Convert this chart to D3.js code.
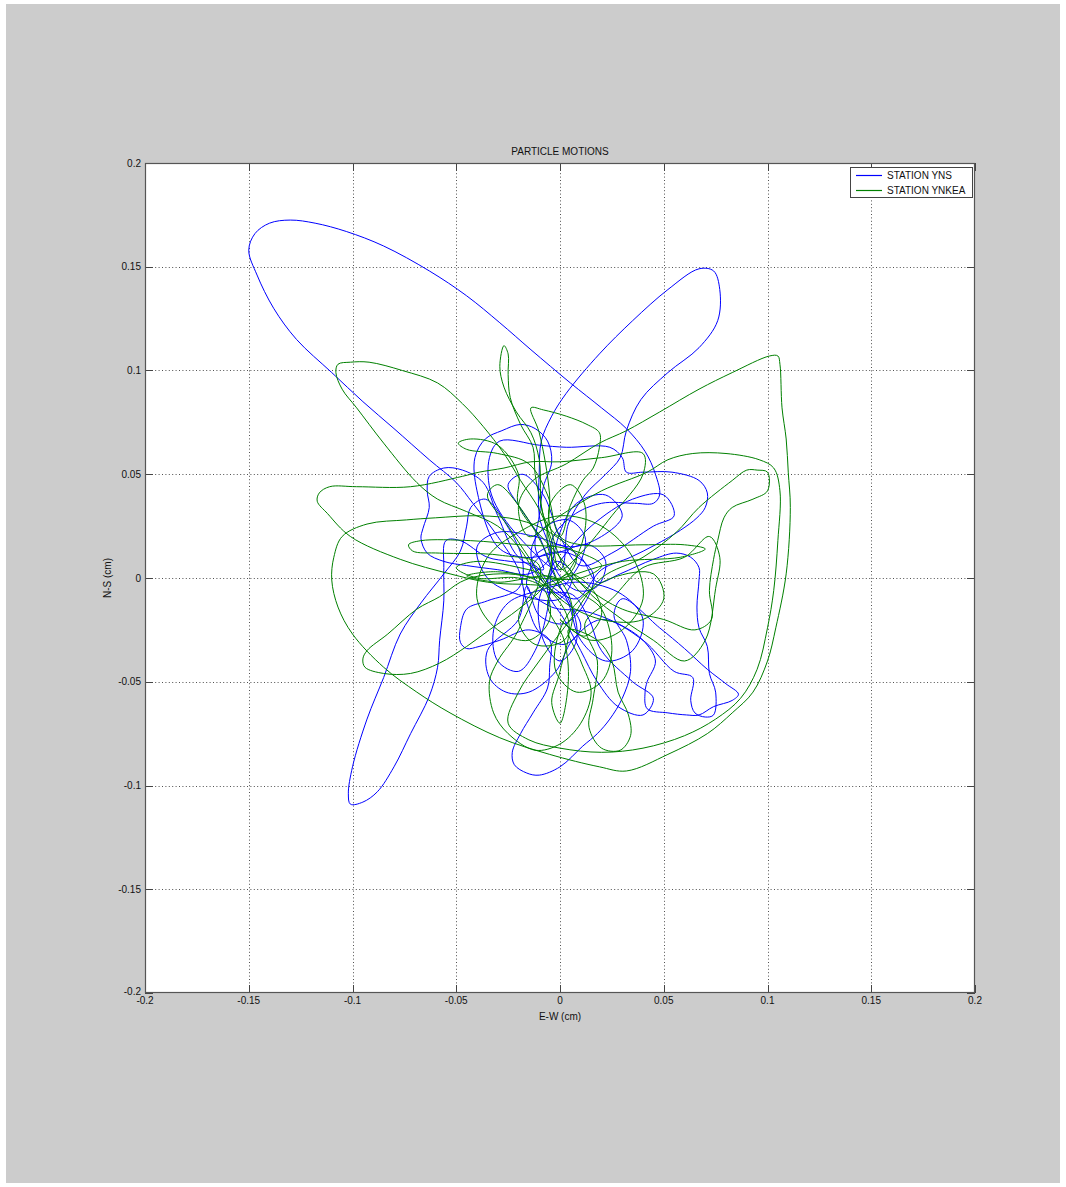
<!DOCTYPE html>
<html><head><meta charset="utf-8">
<script src="https://cdn.jsdelivr.net/npm/d3@7"></script>
<style>
html,body{margin:0;padding:0;background:#fff;}
svg text{font-family:"Liberation Sans",Arial,Helvetica,sans-serif;}
</style></head>
<body><svg id="c" width="1066" height="1187"></svg>
<script>
const title = "PARTICLE MOTIONS";
const xLabel = "E-W (cm)";
const yLabel = "N-S (cm)";
const xTicks = [-0.2,-0.15,-0.1,-0.05,0,0.05,0.1,0.15,0.2];
const yTicks = [-0.2,-0.15,-0.1,-0.05,0,0.05,0.1,0.15,0.2];
const seriesNames = ["STATION YNS","STATION YNKEA"];
const seriesColors = ["#0000ff","#008000"];

// STATION YNS (E-W, N-S) in cm
const ynsPoints = [
[0.002,-0.004],[0.010,0.008],[0.012,0.020],[0.004,0.028],[-0.008,0.024],[-0.014,0.012],[-0.008,-0.002],[0.004,-0.012],[0.010,-0.024],[0.002,-0.032],[-0.010,-0.026],[-0.016,-0.012],[-0.020,0.004],
[-0.030,0.020],[-0.042,0.036],[-0.050,0.046],[-0.063,0.057],[-0.080,0.072],[-0.095,0.085],[-0.110,0.099],[-0.127,0.115],[-0.138,0.130],[-0.146,0.146],[-0.150,0.158],[-0.147,0.166],[-0.140,0.171],[-0.130,0.1725],[-0.118,0.171],[-0.103,0.167],[-0.085,0.160],[-0.063,0.148],[-0.045,0.136],[-0.029,0.123],[-0.014,0.110],[0.005,0.094],[0.020,0.082],[0.032,0.072],[0.041,0.061],[0.046,0.050],[0.048,0.040],[0.045,0.036],[0.036,0.036],[0.020,0.036],
[0.006,0.030],[-0.004,0.018],[-0.002,0.004],[0.008,-0.006],[0.018,-0.004],[0.022,0.008],[0.014,0.016],[-0.002,0.012],[-0.018,0.010],[-0.030,0.015],
[-0.040,0.042],[-0.041,0.058],[-0.036,0.067],[-0.028,0.071],[-0.019,0.074],[-0.012,0.072],[-0.006,0.066],[-0.004,0.056],[-0.008,0.044],[-0.010,0.030],[-0.012,0.015],[-0.008,0.004],
[-0.020,0.010],[-0.030,0.030],[-0.037,0.046],[-0.047,0.052],[-0.056,0.053],[-0.063,0.049],[-0.064,0.042],[-0.063,0.034],[-0.066,0.024],[-0.067,0.019],[-0.064,0.012],[-0.056,0.008],[-0.045,0.006],[-0.030,0.004],[-0.015,0.002],
[-0.005,0.010],[-0.010,0.030],[-0.010,0.051],[-0.009,0.066],[-0.004,0.078],[0.003,0.089],[0.019,0.108],[0.035,0.124],[0.052,0.139],[0.067,0.149],[0.074,0.148],[0.077,0.139],[0.076,0.124],[0.067,0.111],[0.052,0.099],[0.039,0.086],[0.032,0.071],[0.029,0.058],[0.022,0.050],[0.012,0.040],[0.004,0.026],
[0.000,0.004],[-0.020,0.020],[-0.033,0.040],[-0.034,0.058],[-0.029,0.066],[-0.010,0.064],[0.003,0.063],[0.024,0.063],[0.030,0.058],[0.032,0.051],[0.040,0.051],[0.054,0.051],[0.067,0.047],[0.071,0.041],[0.070,0.034],[0.066,0.029],[0.058,0.023],[0.046,0.016],[0.034,0.010],[0.020,0.004],
[0.008,-0.010],[-0.004,-0.004],[-0.012,0.006],[-0.024,0.008],[-0.035,0.010],[-0.048,0.018],[-0.055,0.018],[-0.056,0.005],[-0.056,-0.011],[-0.058,-0.030],[-0.059,-0.043],[-0.063,-0.057],[-0.072,-0.075],[-0.080,-0.091],[-0.088,-0.103],[-0.095,-0.108],[-0.101,-0.109],[-0.102,-0.104],[-0.100,-0.091],[-0.093,-0.068],[-0.085,-0.048],[-0.077,-0.027],[-0.067,-0.012],[-0.056,0.002],[-0.048,0.013],[-0.045,0.025],[-0.043,0.034],[-0.036,0.038],[-0.026,0.026],[-0.018,0.008],
[-0.020,-0.005],[-0.035,-0.011],[-0.045,-0.015],[-0.048,-0.024],[-0.048,-0.031],[-0.045,-0.034],[-0.039,-0.033],[-0.029,-0.030],[-0.015,-0.025],
[-0.005,-0.030],[-0.005,-0.043],[-0.006,-0.053],[-0.013,-0.065],[-0.019,-0.075],[-0.023,-0.084],[-0.022,-0.090],[-0.016,-0.094],[-0.010,-0.095],[0.000,-0.091],[0.011,-0.081],[0.018,-0.075],[0.024,-0.068],[0.030,-0.058],[0.034,-0.045],[0.032,-0.030],[0.026,-0.018],
[0.030,-0.010],[0.048,-0.024],[0.060,-0.034],[0.071,-0.044],[0.080,-0.051],[0.086,-0.056],[0.083,-0.059],[0.074,-0.062],[0.067,-0.066],[0.061,-0.066],[0.052,-0.065],[0.042,-0.063],[0.041,-0.055],[0.042,-0.050],[0.046,-0.040],[0.040,-0.030],[0.028,-0.022],
[0.012,-0.016],[-0.004,-0.014],[-0.016,-0.004],[-0.010,0.010],[0.004,0.012],[0.016,0.002],[0.012,-0.012],[0.002,-0.022],[-0.010,-0.018],[-0.016,-0.004],
[-0.020,-0.020],[-0.035,-0.035],[-0.034,-0.048],[-0.026,-0.055],[-0.015,-0.055],[-0.002,-0.045],[0.006,-0.030],
[0.020,-0.020],[0.040,-0.030],[0.055,-0.045],[0.064,-0.048],[0.063,-0.059],[0.065,-0.065],[0.070,-0.067],[0.074,-0.066],[0.075,-0.055],[0.072,-0.046],[0.071,-0.033],[0.067,-0.024],[0.066,-0.014],[0.067,-0.001],[0.067,0.005],[0.063,0.010],[0.056,0.012],[0.045,0.009],[0.029,0.002],
[0.018,-0.002],[0.010,0.010],[-0.002,0.016],[-0.014,0.008],[-0.008,-0.006],[0.006,-0.008],[0.014,-0.020],[0.020,-0.035],[0.035,-0.050],[0.045,-0.058],[0.040,-0.066],[0.028,-0.062],[0.018,-0.050],[0.010,-0.035],[0.002,-0.020],[-0.006,-0.006],[-0.002,0.008],[0.006,0.002],[0.000,-0.010],
[-0.020,-0.008],[-0.035,0.000],[-0.040,0.015],[-0.030,0.022],[-0.012,0.020],[0.005,0.015],[0.020,0.020],[0.030,0.030],[0.022,0.040],[0.008,0.036],[0.000,0.022],[-0.004,0.005],[-0.006,-0.015],[-0.012,-0.035],[-0.020,-0.045],[-0.030,-0.040],[-0.032,-0.025],[-0.025,-0.012],[-0.010,-0.006],[0.010,-0.002],[0.030,-0.008],[0.040,-0.020],[0.035,-0.035],[0.022,-0.040],[0.010,-0.030],[0.004,-0.012],[-0.004,0.004],[-0.010,0.020],[-0.020,0.035],[-0.025,0.045],[-0.018,0.050],[-0.008,0.040],[0.000,0.020],[0.010,0.006],[0.025,0.012],[0.045,0.025],[0.055,0.030],[0.050,0.040],[0.035,0.038],[0.015,0.025],[0.000,0.008],[-0.010,-0.010],[-0.008,-0.030],[0.000,-0.040],[0.008,-0.030],[0.004,-0.010],[-0.005,0.000]
];

// STATION YNKEA (E-W, N-S) in cm
const ynkeaPoints = [
[0.000,-0.010],[-0.010,0.000],[-0.020,0.015],
[-0.030,0.025],[-0.045,0.032],[-0.059,0.038],[-0.069,0.046],[-0.085,0.065],[-0.098,0.082],[-0.105,0.091],[-0.108,0.099],[-0.107,0.103],[-0.101,0.104],[-0.092,0.104],[-0.076,0.100],[-0.059,0.094],[-0.047,0.084],[-0.037,0.073],[-0.027,0.060],[-0.019,0.047],[-0.010,0.033],[-0.004,0.018],[0.000,0.004],
[0.010,0.012],[0.025,0.030],[0.040,0.050],[0.040,0.060],[0.020,0.058],[0.000,0.056],[-0.014,0.056],[-0.027,0.053],[-0.039,0.051],[-0.047,0.049],[-0.072,0.044],[-0.098,0.044],[-0.111,0.044],[-0.116,0.041],[-0.117,0.037],[-0.112,0.031],[-0.101,0.020],[-0.077,0.009],[-0.053,0.002],[-0.035,-0.002],[-0.019,-0.003],[0.000,-0.002],
[0.008,0.010],[-0.005,0.022],[-0.020,0.028],[-0.039,0.030],[-0.060,0.029],[-0.074,0.028],[-0.093,0.026],[-0.105,0.020],[-0.109,0.010],[-0.110,-0.001],[-0.107,-0.014],[-0.100,-0.027],[-0.085,-0.043],[-0.069,-0.055],[-0.053,-0.065],[-0.029,-0.077],[-0.005,-0.085],[0.019,-0.091],[0.032,-0.093],[0.052,-0.085],[0.071,-0.075],[0.083,-0.065],[0.093,-0.055],[0.100,-0.040],[0.104,-0.024],[0.109,0.002],[0.111,0.034],[0.110,0.051],[0.109,0.067],[0.107,0.082],[0.106,0.103],[0.105,0.107],[0.101,0.107],[0.083,0.099],[0.067,0.091],[0.048,0.080],[0.032,0.071],[0.019,0.065],[0.003,0.055],[-0.013,0.047],[-0.020,0.035],[-0.015,0.020],
[0.000,0.030],[0.020,0.042],[0.042,0.051],[0.052,0.057],[0.064,0.060],[0.080,0.060],[0.096,0.057],[0.103,0.053],[0.106,0.042],[0.105,0.018],[0.103,-0.006],[0.100,-0.024],[0.095,-0.044],[0.087,-0.058],[0.075,-0.068],[0.060,-0.076],[0.040,-0.082],[0.020,-0.084],[0.000,-0.082],[-0.015,-0.078],[-0.025,-0.070],[-0.020,-0.055],[-0.010,-0.040],
[0.005,-0.020],[0.020,0.000],[0.040,0.010],[0.056,0.022],[0.067,0.034],[0.083,0.047],[0.090,0.052],[0.095,0.052],[0.100,0.051],[0.100,0.042],[0.093,0.038],[0.083,0.034],[0.079,0.029],[0.076,0.018],[0.074,0.009],[0.072,-0.006],[0.073,-0.020],[0.065,-0.025],[0.050,-0.020],[0.030,-0.015],[0.012,-0.004],
[-0.005,0.012],[-0.005,0.040],[-0.010,0.070],[-0.014,0.082],[-0.008,0.081],[0.003,0.078],[0.013,0.074],[0.019,0.070],[0.019,0.063],[0.016,0.053],[0.011,0.047],[0.005,0.035],[0.000,0.020],
[-0.008,0.030],[-0.010,0.057],[-0.014,0.070],[-0.021,0.080],[-0.027,0.092],[-0.029,0.102],[-0.027,0.112],[-0.025,0.108],[-0.025,0.098],[-0.024,0.087],[-0.019,0.074],[-0.013,0.063],[-0.012,0.050],[-0.008,0.030],[-0.004,0.010],[-0.008,-0.004],
[-0.020,-0.015],[-0.034,-0.025],[-0.045,-0.033],[-0.058,-0.041],[-0.072,-0.046],[-0.085,-0.046],[-0.094,-0.043],[-0.095,-0.039],[-0.093,-0.035],[-0.083,-0.027],[-0.069,-0.015],[-0.058,-0.009],[-0.048,-0.002],[-0.039,0.001],[-0.025,0.002],[-0.010,0.000],[0.010,0.000],[0.020,0.006],
[0.004,0.014],[-0.019,0.016],[-0.043,0.018],[-0.067,0.018],[-0.073,0.016],[-0.071,0.013],[-0.058,0.012],[-0.029,0.011],[-0.010,0.006],
[-0.020,-0.025],[-0.030,-0.040],[-0.034,-0.050],[-0.032,-0.065],[-0.025,-0.075],[-0.012,-0.083],[0.000,-0.080],[0.010,-0.070],[0.015,-0.055],[0.010,-0.040],[0.004,-0.025],
[0.018,-0.030],[0.025,-0.040],[0.028,-0.055],[0.033,-0.066],[0.034,-0.076],[0.029,-0.083],[0.020,-0.082],[0.014,-0.072],[0.016,-0.058],[0.018,-0.040],[0.012,-0.022],
[0.025,-0.010],[0.040,0.005],[0.060,0.010],[0.072,0.020],[0.077,0.010],[0.075,-0.005],[0.070,-0.030],[0.060,-0.040],[0.045,-0.030],[0.030,-0.020],[0.015,-0.008],
[0.000,0.010],[-0.020,0.035],[-0.020,0.050],[-0.030,0.064],[-0.043,0.067],[-0.049,0.065],[-0.045,0.062],[-0.030,0.060],[-0.015,0.055],[-0.006,0.040],[0.000,0.020],
[0.010,0.016],[0.040,0.016],[0.060,0.016],[0.070,0.014],[0.058,0.010],[0.030,0.008],[0.008,0.002],[-0.012,-0.006],[-0.020,-0.020],[-0.012,-0.032],[0.002,-0.030],[0.006,-0.015],[-0.002,0.000],
[-0.030,-0.002],[-0.045,0.001],[-0.030,0.003],[-0.010,-0.002],[0.004,-0.020],[0.000,-0.045],[-0.004,-0.060],[0.000,-0.070],[0.004,-0.050],[0.002,-0.030],[-0.006,-0.012],[0.004,0.002],[0.016,-0.006],[0.020,-0.018],[0.012,-0.028],[0.000,-0.020],
[0.015,-0.030],[0.030,-0.025],[0.040,-0.010],[0.035,0.010],[0.020,0.025],[0.000,0.030],[-0.020,0.022],[-0.035,0.010],[-0.040,-0.010],[-0.030,-0.025],[-0.015,-0.030],[-0.005,-0.020],[-0.008,-0.005],[-0.020,0.000],[-0.040,0.000],[-0.050,0.005],[-0.040,0.008],[-0.015,0.004],[0.000,0.000],[0.010,0.015],[0.012,0.035],[0.005,0.045],[-0.005,0.035],[-0.002,0.015],[0.008,-0.005],[0.020,-0.015],[0.025,-0.035],[0.020,-0.050],[0.008,-0.055],[-0.002,-0.045],[0.000,-0.025],[0.010,-0.010],[0.025,0.000],[0.045,0.002],[0.050,-0.010],[0.040,-0.020],[0.020,-0.020],[0.000,-0.010],[-0.015,0.010],[-0.025,0.025],[-0.035,0.040],[-0.030,0.045],[-0.020,0.035],[-0.008,0.015],[0.000,-0.005]
];

const svg = d3.select("#c");
svg.append("rect").attr("x",6).attr("y",4).attr("width",1054).attr("height",1179).attr("fill","#cccccc");

const L = 145, R = 975, T = 163, B = 993;
const x = d3.scaleLinear().domain([-0.2,0.2]).range([L,R]);
const y = d3.scaleLinear().domain([-0.2,0.2]).range([B,T]);

svg.append("rect").attr("x",L).attr("y",T).attr("width",R-L).attr("height",B-T).attr("fill","#ffffff");

// grid
const grid = svg.append("g").attr("stroke","#333").attr("stroke-width",1).attr("stroke-dasharray","1,2.4").attr("opacity",0.85);
xTicks.slice(1,-1).forEach(v=>{
  grid.append("line").attr("x1",Math.round(x(v))+0.5).attr("x2",Math.round(x(v))+0.5).attr("y1",T).attr("y2",B);
});
yTicks.slice(1,-1).forEach(v=>{
  grid.append("line").attr("y1",Math.round(y(v))+0.5).attr("y2",Math.round(y(v))+0.5).attr("x1",L).attr("x2",R);
});

// series
const line = d3.line().x(d=>x(d[0])).y(d=>y(d[1])).curve(d3.curveCatmullRom.alpha(0.5));
const plot = svg.append("g");
plot.append("path").datum(ynsPoints).attr("d",line).attr("fill","none").attr("stroke",seriesColors[0]).attr("stroke-width",1).attr("stroke-linejoin","round");
plot.append("path").datum(ynkeaPoints).attr("d",line).attr("fill","none").attr("stroke",seriesColors[1]).attr("stroke-width",1).attr("stroke-linejoin","round");

// ticks (inward) on four sides
const tk = 8;
const ticksG = svg.append("g").attr("stroke","#444").attr("stroke-width",1);
xTicks.forEach(v=>{
  const px = Math.round(x(v))+0.5;
  ticksG.append("line").attr("x1",px).attr("x2",px).attr("y1",B).attr("y2",B-tk);
  ticksG.append("line").attr("x1",px).attr("x2",px).attr("y1",T).attr("y2",T+tk);
});
yTicks.forEach(v=>{
  const py = Math.round(y(v))+0.5;
  ticksG.append("line").attr("y1",py).attr("y2",py).attr("x1",L).attr("x2",L+tk);
  ticksG.append("line").attr("y1",py).attr("y2",py).attr("x1",R).attr("x2",R-tk);
});

// frame
svg.append("rect").attr("x",L+0.5).attr("y",T+0.5).attr("width",R-L-1).attr("height",B-T-1).attr("fill","none").attr("stroke","#555").attr("stroke-width",1.2);

// tick labels
const fmt = v => String(v);
const lbl = svg.append("g").attr("font-size","10px").attr("fill","#111");
xTicks.forEach(v=>{
  lbl.append("text").attr("x",x(v)).attr("y",B+11).attr("text-anchor","middle").text(fmt(v));
});
yTicks.forEach(v=>{
  lbl.append("text").attr("x",L-4).attr("y",y(v)+3.5 - (v===-0.2?2:0)).attr("text-anchor","end").text(fmt(v));
});

// title and axis labels
svg.append("text").attr("x",(L+R)/2).attr("y",T-8).attr("text-anchor","middle").attr("font-size","10px").attr("fill","#111").text(title);
svg.append("text").attr("x",(L+R)/2).attr("y",B+27).attr("text-anchor","middle").attr("font-size","10px").attr("fill","#111").text(xLabel);
svg.append("text").attr("transform",`translate(111,${(T+B)/2}) rotate(-90)`).attr("text-anchor","middle").attr("font-size","10px").attr("fill","#111").text(yLabel);

// legend
const lg = svg.append("g");
lg.append("rect").attr("x",850.5).attr("y",167.5).attr("width",122).attr("height",30).attr("fill","#fff").attr("stroke","#444").attr("stroke-width",1);
seriesNames.forEach((n,i)=>{
  const yy = 175.5 + i*15;
  lg.append("line").attr("x1",856).attr("x2",882).attr("y1",yy).attr("y2",yy).attr("stroke",seriesColors[i]).attr("stroke-width",1.2);
  lg.append("text").attr("x",887).attr("y",yy+3.5).attr("font-size","10px").attr("fill","#111").text(n);
});
</script>
</body></html>
